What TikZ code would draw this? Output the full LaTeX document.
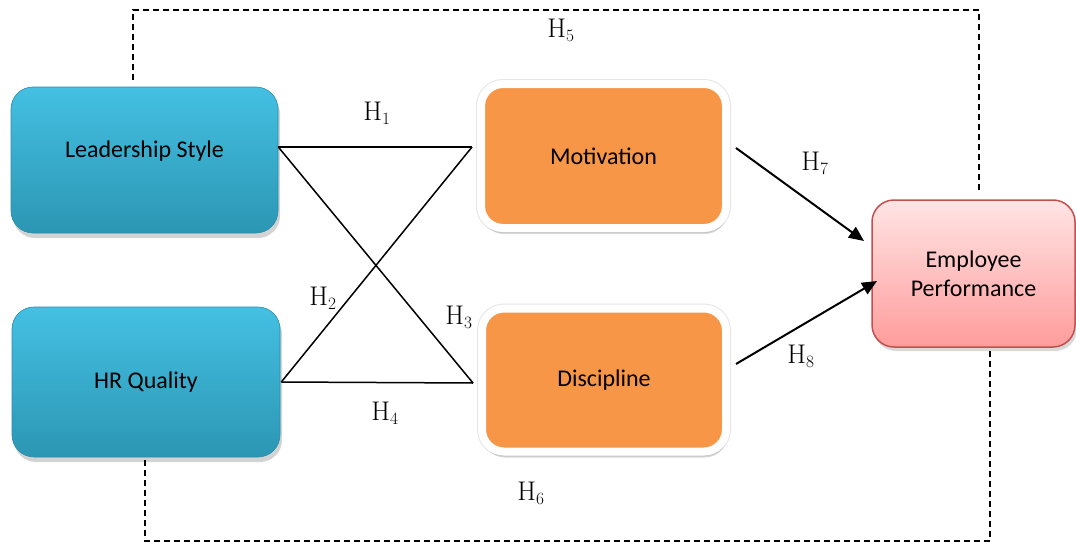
\documentclass[tikz,border=0pt]{standalone}
\usepackage{fontspec}
\newfontfamily\boxfont{Carlito}
\usetikzlibrary{shadows,arrows.meta,calc}
\definecolor{bluetop}{HTML}{44C0E2}
\definecolor{bluebot}{HTML}{2C96B4}
\definecolor{bluedraw}{HTML}{2A8CA8}
\definecolor{orangefill}{HTML}{F79646}
\definecolor{pinktop}{HTML}{FFE4E4}
\definecolor{pinkbot}{HTML}{FF9C9C}
\definecolor{pinkdraw}{HTML}{C0504D}
\begin{document}
\begin{tikzpicture}[x=1pt,y=-1pt,
  boxtext/.style={font=\boxfont\fontsize{24}{29}\selectfont, text=black, align=center},
  bluebox/.style={boxtext, rounded corners=22pt, top color=bluetop, bottom color=bluebot,
    draw=bluedraw, line width=0.6pt,
    drop shadow={shadow xshift=2pt, shadow yshift=-5pt, opacity=0.35}},
  orangebox/.style={boxtext, rounded corners=22pt, fill=orangefill, draw=white, line width=8pt,
    preaction={draw=black!10, line width=10pt},
    drop shadow={shadow xshift=1pt, shadow yshift=-6pt, opacity=0.3}},
  pinkbox/.style={boxtext, rounded corners=22pt, top color=pinktop, bottom color=pinkbot,
    draw=pinkdraw, line width=1.5pt,
    drop shadow={shadow xshift=2pt, shadow yshift=-4pt, opacity=0.3}},
  hlabel/.style={font=\fontsize{27}{32}\selectfont, inner sep=0pt},
  link/.style={line width=1.5pt, black},
  arr/.style={line width=2pt, black, -{Triangle[length=15pt,width=13pt]}},
  dashline/.style={line width=1.6pt, black, dash pattern=on 6pt off 4pt}
]
\useasboundingbox (0,0) rectangle (1076,543);

% nodes
\node[bluebox, minimum width=267pt, minimum height=146pt] (ls) at (144.5,160) {};
\node[boxtext] (lst) at (144.5,151) {Leadership Style};
\node[bluebox, minimum width=268pt, minimum height=150pt] (hr) at (146,382) {HR Quality};
\node[orangebox, minimum width=245pt, minimum height=144pt] (mot) at (603.5,156) {Motivation};
\node[orangebox, minimum width=244pt, minimum height=143pt] (dis) at (604,380) {Discipline};
\node[pinkbox, minimum width=203pt, minimum height=147pt] (ep) at (973.5,273.5) {Employee\\Performance};

% crossing links
\coordinate (a1) at ([yshift=13pt]ls.east);
\coordinate (b1) at ([xshift=-5pt,yshift=9pt]mot.west);
\coordinate (a2) at ([xshift=1pt]hr.east);
\coordinate (b2) at ([xshift=-5pt,yshift=-3pt]dis.west);
\draw[link] (a1) -- (b1);
\draw[link] (a1) -- (b2);
\draw[link] (a2) -- (b1);
\draw[link] (a2) -- (b2);

% arrows
\coordinate (m1) at (736,148);
\coordinate (d1) at (736,364);
\coordinate (e1) at (864,241);
\coordinate (e2) at (877,281);
\draw[arr] (m1) -- (e1);
\draw[arr] (d1) -- (e2);

% dashed loops
\coordinate (t0) at (133,80);
\coordinate (t1) at (133,10);
\coordinate (t2) at (979,10);
\coordinate (t3) at (979,193);
\draw[dashline] (t0) -- (t1) -- (t2) -- (t3);
\coordinate (u0) at (145,460);
\coordinate (u1) at (145,541);
\coordinate (u2) at (990,541);
\coordinate (u3) at (990,348);
\draw[dashline] (u0) -- (u1) -- (u2) -- (u3);

% labels
\node[hlabel] (h1) at (377,113) {H$_1$};
\node[hlabel] (h2) at (323,298) {H$_2$};
\node[hlabel] (h3) at (459,317) {H$_3$};
\node[hlabel] (h4) at (385,413) {H$_4$};
\node[hlabel] (h5) at (561,30) {H$_5$};
\node[hlabel] (h6) at (531,493) {H$_6$};
\node[hlabel] (h7) at (815,163) {H$_7$};
\node[hlabel] (h8) at (801,356) {H$_8$};
\end{tikzpicture}
\end{document}
